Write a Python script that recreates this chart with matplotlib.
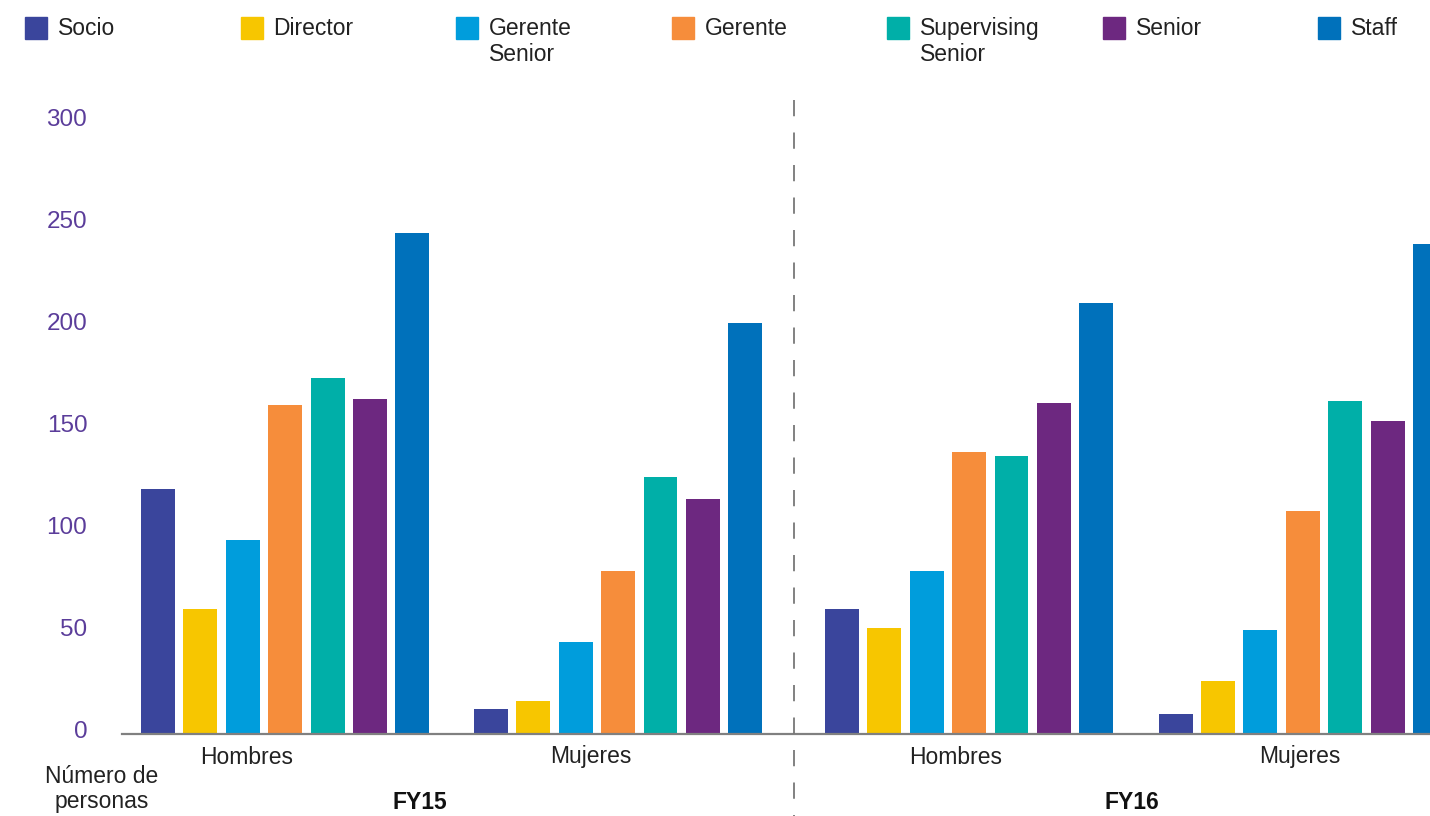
import matplotlib
matplotlib.use('Agg')
import matplotlib.pyplot as plt
from matplotlib.patches import Rectangle
from matplotlib.transforms import blended_transform_factory, ScaledTranslation

plt.rcParams['font.family'] = ['Liberation Sans', 'DejaVu Sans']

# Data
categorias = ['Socio', 'Director', 'Gerente\nSenior', 'Gerente',
              'Supervising\nSenior', 'Senior', 'Staff']
colores = ['#3A459C', '#F7C600', '#009DDC', '#F68D3B',
           '#00AFA8', '#6D2880', '#0071BB']
grupos = ['Hombres', 'Mujeres', 'Hombres', 'Mujeres']
periodos = ['FY15', 'FY16']

fy15_hombres = [120, 61, 95, 161, 174, 164, 245]
fy15_mujeres = [12, 16, 45, 80, 126, 115, 201]
fy16_hombres = [61, 52, 80, 138, 136, 162, 211]
fy16_mujeres = [10, 26, 51, 109, 163, 153, 240]
series = [fy15_hombres, fy15_mujeres, fy16_hombres, fy16_mujeres]

W, H = 1430, 816
fig = plt.figure(figsize=(W / 100, H / 100), dpi=100)
ax = fig.add_axes([122 / W, (H - 734) / H, 1 - 122 / W, (734 - 121) / H])

# layout in bar slots
inicio_grupo = [0, 7.85, 16.13, 24.0]
for g, valores in enumerate(series):
    xs = [inicio_grupo[g] + i for i in range(len(valores))]
    ax.bar(xs, valores, width=0.8, color=colores, zorder=2)

ax.set_xlim(-0.85, 30.0)
ax.set_ylim(0, 300)
ax.set_yticks(range(0, 301, 50))
ax.set_xticks([])
ax.tick_params(axis='y', length=0, pad=25, labelsize=17.5, labelcolor='#5B3D9A')
for lbl in ax.get_yticklabels():
    lbl.set_transform(lbl.get_transform() + ScaledTranslation(0, 0.04, fig.dpi_scale_trans))
for s in ['top', 'right', 'left']:
    ax.spines[s].set_visible(False)
ax.spines['bottom'].set_color('#808080')
ax.spines['bottom'].set_linewidth(1.6)

tr = blended_transform_factory(ax.transData, fig.transFigure)

# group labels under the axis
pos_grupo = [2.1, 10.2, 18.8, 26.93]
for x, t in zip(pos_grupo, grupos):
    ax.text(x, 1 - 757 / H, t, transform=tr, ha='center', va='center',
            fontsize=16.5, color='#222222', clip_on=False)
for x, t in zip([6.18, 22.97], periodos):
    ax.text(x, 2 / H, t, transform=tr, ha='center', va='bottom',
            fontsize=16.5, fontweight='bold', color='#111111', clip_on=False)

# dashed separator between years
ax.plot([15.0, 15.0], [1 - 100 / H, 0], transform=tr, color='#777777',
        lw=1.3, dashes=(9, 9), clip_on=False, zorder=3)

fig.text(102 / W, 3 / H, 'Número de\npersonas', ha='center', va='bottom',
         fontsize=16.5, color='#222222', linespacing=1.1)

# legend drawn by hand
for i, (cat, col) in enumerate(zip(categorias, colores)):
    x0 = 25 + i * 215.5
    fig.patches.append(Rectangle((x0 / W, 1 - 39 / H), 22 / W, 22 / H,
                                 transform=fig.transFigure, color=col))
    fig.text((x0 + 33) / W, 1 - 17 / H, cat, ha='left', va='top',
             fontsize=16.5, color='#222222', linespacing=1.15)

fig.savefig('out.png', dpi=100)
